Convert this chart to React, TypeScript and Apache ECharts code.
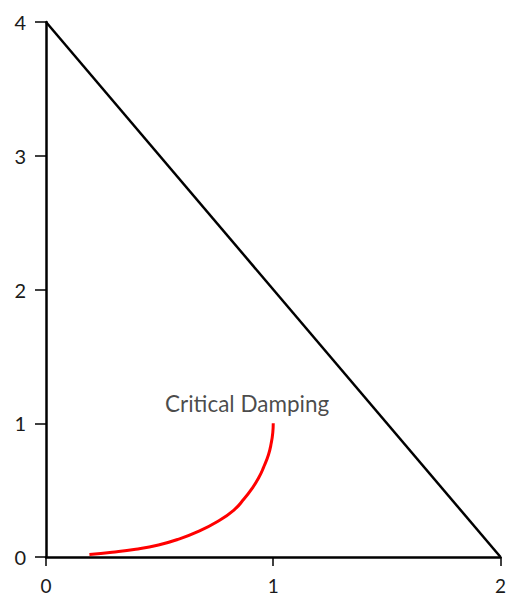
import React, { useEffect, useRef } from "react";
import * as echarts from "echarts";

const xTicks = [0, 1, 2];
const yTicks = [0, 1, 2, 3, 4];
const boundaryLine: [number, number][] = [
  [0, 4],
  [2, 0],
];
const criticalX = [0.191, 0.291, 0.395, 0.495, 0.581, 0.668, 0.755, 0.827, 0.871, 0.907, 0.936, 0.957, 0.979, 0.991, 0.998, 1.0];
const criticalY = [0.018, 0.035, 0.058, 0.09, 0.132, 0.19, 0.266, 0.351, 0.433, 0.513, 0.592, 0.668, 0.765, 0.85, 0.93, 1.0];
const labelText = "Critical Damping";
const labelPos: [number, number] = [0.885, 1.144];

export default function App() {
  const ref = useRef<HTMLDivElement>(null);
  useEffect(() => {
    if (!ref.current) return;
    const chart = echarts.init(ref.current, undefined, { renderer: "svg" });
    const labelStyle = {
      color: "#1a1a1a",
      fontSize: 20,
      fontFamily: "Lato",
    };
    chart.setOption({
      animation: false,
      backgroundColor: "#ffffff",
      grid: { left: 46, right: 3, top: 22, bottom: 38, containLabel: false },
      xAxis: {
        type: "value",
        min: xTicks[0],
        max: xTicks[xTicks.length - 1],
        interval: 1,
        splitLine: { show: false },
        axisLine: { show: true, onZero: false, lineStyle: { color: "#000", width: 2.5 } },
        axisTick: { show: true, length: 9, lineStyle: { color: "#000", width: 1.5 } },
        axisLabel: { ...labelStyle, fontSize: 19, lineHeight: 18, margin: 19, formatter: (v: number) => String(v) },
      },
      yAxis: {
        type: "value",
        min: yTicks[0],
        max: yTicks[yTicks.length - 1],
        interval: 1,
        splitLine: { show: false },
        axisLine: { show: true, onZero: false, lineStyle: { color: "#000", width: 2.5 } },
        axisTick: { show: true, length: 11, lineStyle: { color: "#000", width: 1.5 } },
        axisLabel: { ...labelStyle, margin: 20, formatter: (v: number) => String(v) },
      },
      series: [
        {
          type: "line",
          data: boundaryLine,
          symbol: "none",
          lineStyle: { color: "#000", width: 2.5 },
          z: 3,
        },
        {
          type: "line",
          data: criticalX.map((x, i) => [x, criticalY[i]]),
          symbol: "none",
          smooth: 0.5,
          lineStyle: { color: "#ff0000", width: 3 },
          z: 4,
        },
        {
          type: "scatter",
          data: [labelPos],
          symbolSize: 0,
          silent: true,
          label: {
            show: true,
            position: "inside",
            formatter: labelText,
            color: "#1a1a1a",
            fontSize: 22.5,
            fontFamily: "Lato",
          },
        },
      ],
    });
    return () => chart.dispose();
  }, []);
  return (
    <div
      ref={ref}
      style={{ position: "fixed", left: 0, top: 0, width: 509, height: 595, background: "#fff" }}
    />
  );
}
